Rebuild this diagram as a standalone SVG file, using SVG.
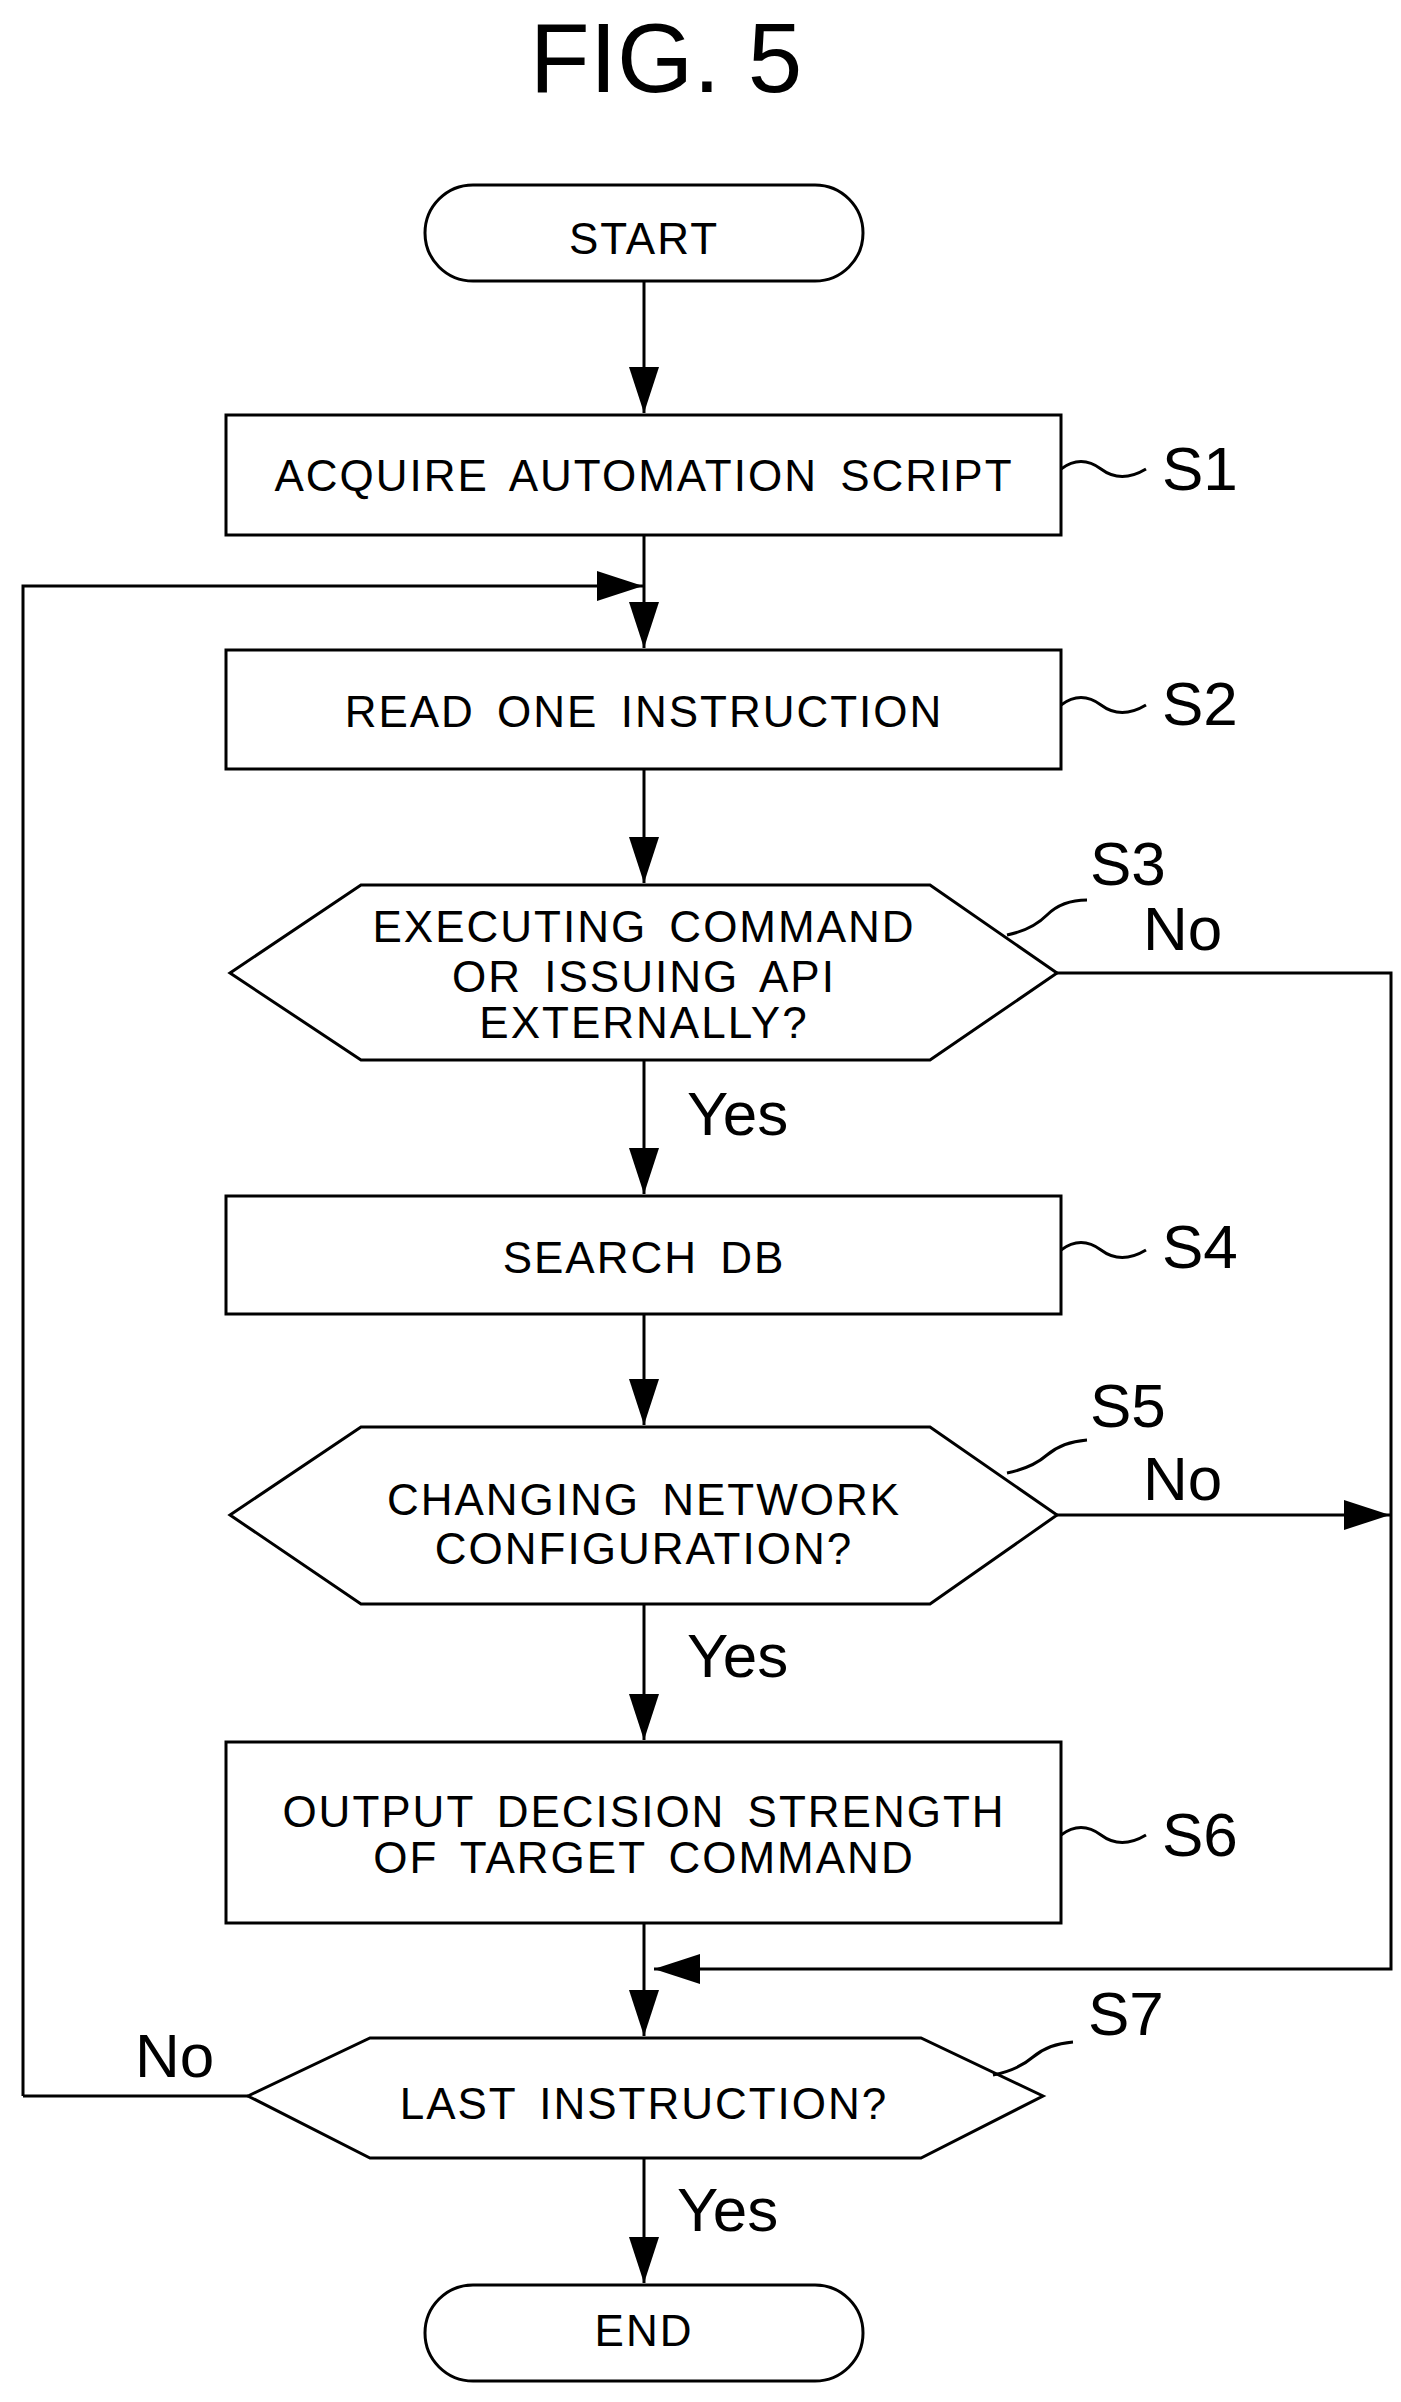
<svg xmlns="http://www.w3.org/2000/svg" width="1401" height="2402" viewBox="0 0 1401 2402">
<style>
.s{fill:none;stroke:#000;stroke-width:3}
.t{font-family:"Liberation Sans",Arial,sans-serif;font-size:44px;text-anchor:middle;fill:#000;letter-spacing:2px;word-spacing:8px}
.l{font-family:"Liberation Sans",Arial,sans-serif;font-size:62px;fill:#000}
.c{fill:none;stroke:#000;stroke-width:3}
</style>
<defs>
<marker id="a" markerUnits="userSpaceOnUse" markerWidth="48" markerHeight="30" refX="46" refY="15" orient="auto"><path d="M0,0 L46,15 L0,30 Z" fill="#000"/></marker>
</defs>
<text x="666" y="92" style="font-family:'Liberation Sans',Arial,sans-serif;font-size:98px;text-anchor:middle">FIG. 5</text>
<g id="start"><rect class="s" x="425" y="185" width="438" height="96" rx="48"/><text class="t" x="644" y="254">START</text></g>
<g id="s1"><rect class="s" x="226" y="415" width="835" height="120"/><text class="t" x="644" y="491">ACQUIRE AUTOMATION SCRIPT</text><path class="c" d="M1061,469 q20,-15 40,0 t45,0"/><text class="l" x="1162" y="490">S1</text></g>
<g id="s2"><rect class="s" x="226" y="650" width="835" height="119"/><text class="t" x="644" y="727">READ ONE INSTRUCTION</text><path class="c" d="M1061,705 q20,-15 40,0 t45,0"/><text class="l" x="1162" y="725">S2</text></g>
<g id="s3"><polygon class="s" points="230,973 361,885 930,885 1057,973 930,1060 361,1060"/><text class="t" x="644" y="942">EXECUTING COMMAND</text><text class="t" x="644" y="992">OR ISSUING API</text><text class="t" x="644" y="1038">EXTERNALLY?</text><path class="c" d="M1007,935 q25,-5 40,-20 t40,-15"/><text class="l" x="1090" y="885">S3</text></g>
<g id="s4"><rect class="s" x="226" y="1196" width="835" height="118"/><text class="t" x="644" y="1273">SEARCH DB</text><path class="c" d="M1061,1250 q20,-15 40,0 t45,0"/><text class="l" x="1162" y="1268">S4</text></g>
<g id="s5"><polygon class="s" points="230,1515 361,1427 930,1427 1057,1515 930,1604 361,1604"/><text class="t" x="644" y="1515">CHANGING NETWORK</text><text class="t" x="644" y="1564">CONFIGURATION?</text><path class="c" d="M1007,1473 q25,-5 40,-18 t40,-15"/><text class="l" x="1090" y="1427">S5</text></g>
<g id="s6"><rect class="s" x="226" y="1742" width="835" height="181"/><text class="t" x="644" y="1827">OUTPUT DECISION STRENGTH</text><text class="t" x="644" y="1873">OF TARGET COMMAND</text><path class="c" d="M1061,1835 q20,-15 40,0 t45,0"/><text class="l" x="1162" y="1856">S6</text></g>
<g id="s7"><polygon class="s" points="248,2096 370,2038 921,2038 1043,2096 921,2158 370,2158"/><text class="t" x="644" y="2119">LAST INSTRUCTION?</text><path class="c" d="M993,2075 q25,-5 40,-18 t40,-15"/><text class="l" x="1088" y="2035">S7</text></g>
<g id="end"><rect class="s" x="425" y="2285" width="438" height="96" rx="48"/><text class="t" x="644" y="2346">END</text></g>
<g id="connectors">
<path class="c" d="M644,281 V413" marker-end="url(#a)"/>
<path class="c" d="M644,535 V648" marker-end="url(#a)"/>
<path class="c" d="M23,2096 V586 H643" marker-end="url(#a)"/>
<path class="c" d="M644,769 V883" marker-end="url(#a)"/>
<path class="c" d="M644,1060 V1194" marker-end="url(#a)"/>
<path class="c" d="M1057,973 H1391 V1969 H654" marker-end="url(#a)"/>
<path class="c" d="M644,1314 V1425" marker-end="url(#a)"/>
<path class="c" d="M1057,1515 H1390" marker-end="url(#a)"/>
<path class="c" d="M644,1604 V1740" marker-end="url(#a)"/>
<path class="c" d="M644,1923 V2036" marker-end="url(#a)"/>
<path class="c" d="M23,2096 H248"/>
<path class="c" d="M644,2158 V2283" marker-end="url(#a)"/>
<text class="l" x="1143" y="950">No</text>
<text class="l" x="687" y="1135">Yes</text>
<text class="l" x="1143" y="1500">No</text>
<text class="l" x="687" y="1677">Yes</text>
<text class="l" x="135" y="2077">No</text>
<text class="l" x="677" y="2231">Yes</text>
</g>
</svg>
